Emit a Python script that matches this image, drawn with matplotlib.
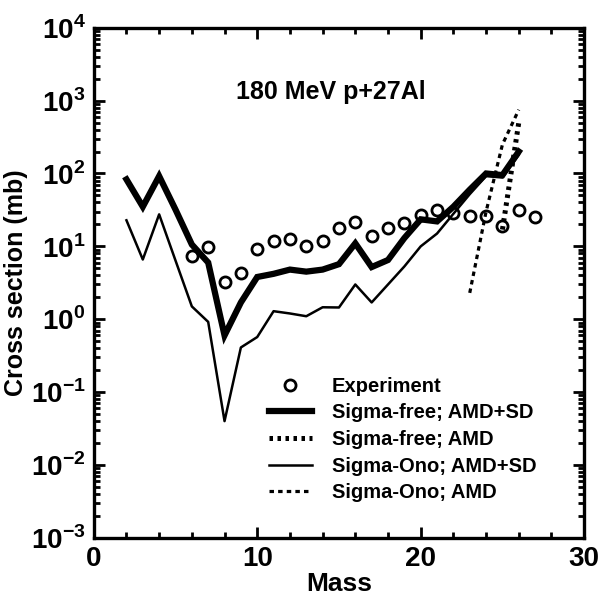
import matplotlib
matplotlib.use("Agg")
import matplotlib.pyplot as plt
from matplotlib.ticker import LogLocator, FixedLocator, MultipleLocator, NullFormatter

plt.rcParams['font.family'] = ['Liberation Sans', 'DejaVu Sans']
plt.rcParams['font.weight'] = 'bold'
plt.rcParams['mathtext.fontset'] = 'custom'
plt.rcParams['mathtext.rm'] = 'Liberation Sans:bold'
plt.rcParams['mathtext.bf'] = 'Liberation Sans:bold'

# experimental fragment yields
exp_mass = [6, 7, 8, 9, 10, 11, 12, 13, 14, 15, 16, 17, 18, 19, 20, 21, 22, 23, 24, 25, 26, 27]
exp_xs = [7.3, 9.7, 3.2, 4.3, 9.2, 11.7, 12.5, 10.0, 12.0, 18.0, 21.5, 13.7, 17.7, 21.0,
          27.0, 32.0, 29.0, 26.0, 26.0, 19.0, 32.0, 25.0]

# AMD+SD results
sd_mass = list(range(2, 27))
free_sd = [83, 35, 92, 32, 10.6, 6.0, 0.6, 1.7, 3.8, 4.2, 4.8, 4.5, 4.8, 5.7, 11.0, 5.2, 6.5,
           13.0, 23.5, 22.0, 35, 60, 100, 95, 200]
ono_sd = [22.8, 6.6, 27.5, 6.4, 1.5, 0.92, 0.04, 0.41, 0.57, 1.29, 1.2, 1.1, 1.46, 1.45, 3.0,
          1.7, 3.0, 5.3, 10.0, 15.0, 28, 52, 92, 88, 180]

# AMD-only results (heavy residues)
free_amd_mass = [25, 26]
free_amd = [17, 500]
ono_amd_mass = [23, 24, 25, 26]
ono_amd = [2.3, 30, 250, 750]

fig = plt.figure(figsize=(6.01, 6.03), dpi=100)
ax = fig.add_axes([0.156, 0.108, 0.816, 0.846])

ax.plot(sd_mass, free_sd, color='black', lw=4.5, solid_joinstyle='miter',
        label='Sigma-free; AMD+SD')
ax.plot(free_amd_mass, free_amd, color='black', lw=3.6, ls=(0, (0.7, 0.9)),
        label='Sigma-free; AMD')
ax.plot(sd_mass, ono_sd, color='black', lw=1.8, label='Sigma-Ono; AMD+SD')
ax.plot(ono_amd_mass, ono_amd, color='black', lw=2.3, ls=(0, (1.4, 1.3)),
        label='Sigma-Ono; AMD')
ax.plot(exp_mass, exp_xs, ls='none', marker='o', ms=8, mfc='none', mec='black',
        mew=2.0, label='Experiment')

ax.set_yscale('log')
ax.set_xlim(0, 30)
ax.set_ylim(1e-3, 1e4)

ax.yaxis.set_major_locator(FixedLocator([10.0 ** k for k in range(-3, 5)]))
ax.yaxis.set_minor_locator(LogLocator(base=10, subs=range(2, 10), numticks=20))
ax.yaxis.set_minor_formatter(NullFormatter())
ax.set_yticklabels([r'$10^{%d}$' % k for k in range(-3, 5)])
ax.xaxis.set_major_locator(MultipleLocator(10))
ax.xaxis.set_minor_locator(MultipleLocator(2))

ax.tick_params(which='both', direction='in', top=True, right=True, width=2)
ax.tick_params(which='major', length=8, labelsize=20, pad=6)
ax.tick_params(which='minor', length=4)
for sp in ax.spines.values():
    sp.set_linewidth(2.4)

ax.set_xlabel('Mass', fontsize=19, fontweight='bold', labelpad=0)
ax.set_ylabel('Cross section (mb)', fontsize=18, fontweight='bold', labelpad=2)

ax.text(0.484, 0.875, '180 MeV p+27Al', transform=ax.transAxes, ha='center',
        va='center', fontsize=18, fontweight='bold')

handles, labels = ax.get_legend_handles_labels()
order = [4, 0, 1, 2, 3]
ax.legend([handles[i] for i in order], [labels[i] for i in order],
          loc='upper left', bbox_to_anchor=(0.358, 0.316), frameon=False,
          prop={'weight': 'bold', 'size': 14.5}, handlelength=2.1,
          handletextpad=1.0, labelspacing=0.38, borderpad=0, borderaxespad=0)

fig.savefig('out.png', dpi=100)
